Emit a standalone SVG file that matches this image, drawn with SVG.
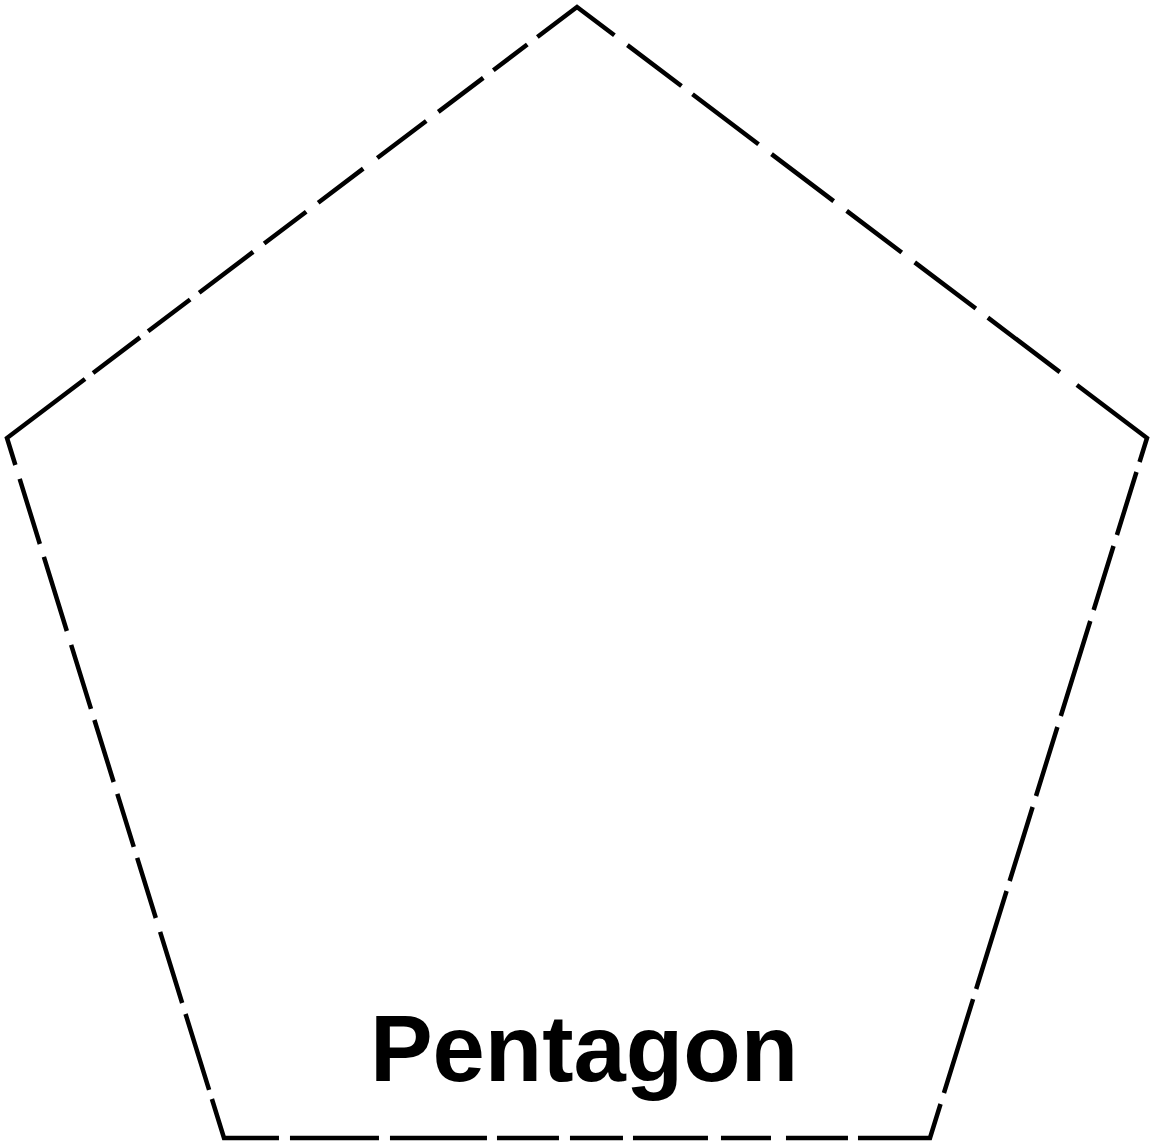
<svg xmlns="http://www.w3.org/2000/svg" width="1151" height="1147" viewBox="0 0 1151 1147">
<style>
.shape{fill:#ffffff;stroke:#000000;stroke-width:4.5;stroke-linejoin:miter;stroke-dasharray:97.8 10.1 58.9 10.1 52.7 11.3 67.7 13.8 52.7 15 56.5 17.6 61.4 15.1 56.4 12.6 42.6 12.6 96.6 16.3 67.8 13.8 82.8 16.3 77.9 16.3 69 16.3 76.6 15.1 90.3 21.3 113 10.5 66 11.5 67 11.5 99.5 11.5 72.2 11.5 77.5 10.5 102.6 10.5 98.4 11.5 107.6 10 62 15 50 13 75 10 53 11 62 10 97 11 89 11 95.8 9.5 79.5 11.5 74.4 14.6 62.9 11.5 55.5 12.5 64.9 11.6 67 14.6 77.5 13.6 68.1 14.6 200 0}
.label{font-family:"Liberation Sans",Arial,sans-serif;font-weight:bold;font-size:94px;fill:#000000;text-anchor:middle}
</style>
<rect width="1151" height="1147" fill="#ffffff"/>
<g id="pentagon">
<path class="shape" d="M7 438 L577 7 L1147 438 L930 1138 L224 1138 Z"/>
<text class="label" x="584" y="1081">Pentagon</text>
</g>
<g id="connectors"/>
</svg>
